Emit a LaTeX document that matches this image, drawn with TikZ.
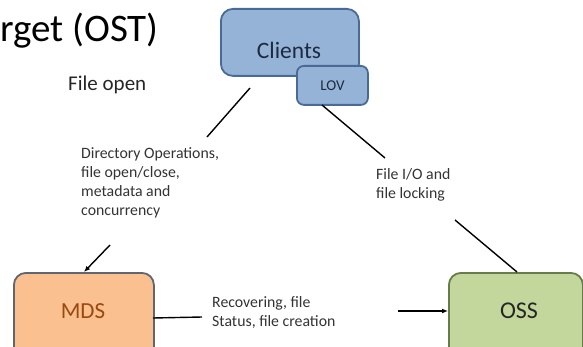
\documentclass[tikz,border=0pt]{standalone}
\usepackage{fontspec}
\usetikzlibrary{arrows.meta}
\setmainfont{Carlito}
\begin{document}
\begin{tikzpicture}[x=1pt,y=-1pt,
  box/.style={draw, line width=1.8pt, rounded corners=12pt, inner sep=0pt},
  conn/.style={line width=1.4pt, black},
  arr/.style={conn, -{Latex[length=6pt,width=5pt]}},
  lbl/.style={anchor=north west, align=left, inner sep=0pt, text=black!80, font=\fontsize{15.8}{19}\selectfont}
]
\useasboundingbox (0,0) rectangle (583,347);
\clip (0,0) rectangle (583,347);
\definecolor{cfill}{HTML}{95B3D7}
\definecolor{cdraw}{HTML}{4A6A96}
\definecolor{ctext}{HTML}{1E2A40}
\definecolor{mfill}{HTML}{FAC090}
\definecolor{mdraw}{HTML}{5F6670}
\definecolor{mtext}{HTML}{9A4A10}
\definecolor{ofill}{HTML}{C3D69B}
\definecolor{odraw}{HTML}{6A7A4A}
% title
\node[anchor=west, inner sep=0pt, font=\fontsize{39}{39}\selectfont] (title) at (0,31) {rget (OST)};
\node[anchor=west, inner sep=0pt, font=\fontsize{21}{21}\selectfont, text=black!85] (fopen) at (68,85) {File open};
% Clients
\node[box, fill=cfill, draw=cdraw, minimum width=138pt, minimum height=67pt, anchor=north west] (clients) at (220,8) {};
\node[font=\fontsize{23.5}{23.5}\selectfont, text=ctext] (clientsT) at (289,50) {Clients};
\node[box, rounded corners=7pt, fill=cfill, draw=cdraw, minimum width=71pt, minimum height=39pt, anchor=north west,
      font=\fontsize{15}{15}\selectfont, text=ctext] (lov) at (296,65) {LOV};
% MDS
\node[box, fill=mfill, draw=mdraw, minimum width=140pt, minimum height=90pt, anchor=north west] (mds) at (13,272) {};
\node[font=\fontsize{23}{23}\selectfont, text=mtext] (mdsT) at (83,311) {MDS};
% OSS
\node[box, fill=ofill, draw=odraw, minimum width=134pt, minimum height=90pt, anchor=north west] (oss) at (448,272) {};
\node[font=\fontsize{24}{24}\selectfont, text=black!85] (ossT) at (519,311) {OSS};
% labels
\node[lbl] (dirops) at (81,147) {Directory Operations,\\file open/close,\\metadata and\\concurrency};
\node[lbl] (fileio) at (376,168) {File I/O and\\file locking};
\node[lbl] (recov) at (212,296) {Recovering, file\\Status, file creation};
% connectors
\coordinate (c1) at (250,88);
\coordinate (c1e) at (207,137);
\draw[conn] (c1) -- (c1e);
\coordinate (l1) at (322,105);
\coordinate (l1e) at (385,158);
\draw[conn] (l1) -- (l1e);
\coordinate (o1) at (455,220);
\coordinate (o1e) at (517,272);
\draw[conn] (o1) -- (o1e);
\coordinate (m1) at (110,245);
\coordinate (m1e) at (84,272);
\draw[arr] (m1) -- (m1e);
\coordinate (m2) at (153,318);
\coordinate (m2e) at (202,317);
\draw[conn] (m2) -- (m2e);
\coordinate (s1) at (398,311);
\coordinate (s1e) at (448,311);
\draw[arr] (s1) -- (s1e);
\end{tikzpicture}
\end{document}
